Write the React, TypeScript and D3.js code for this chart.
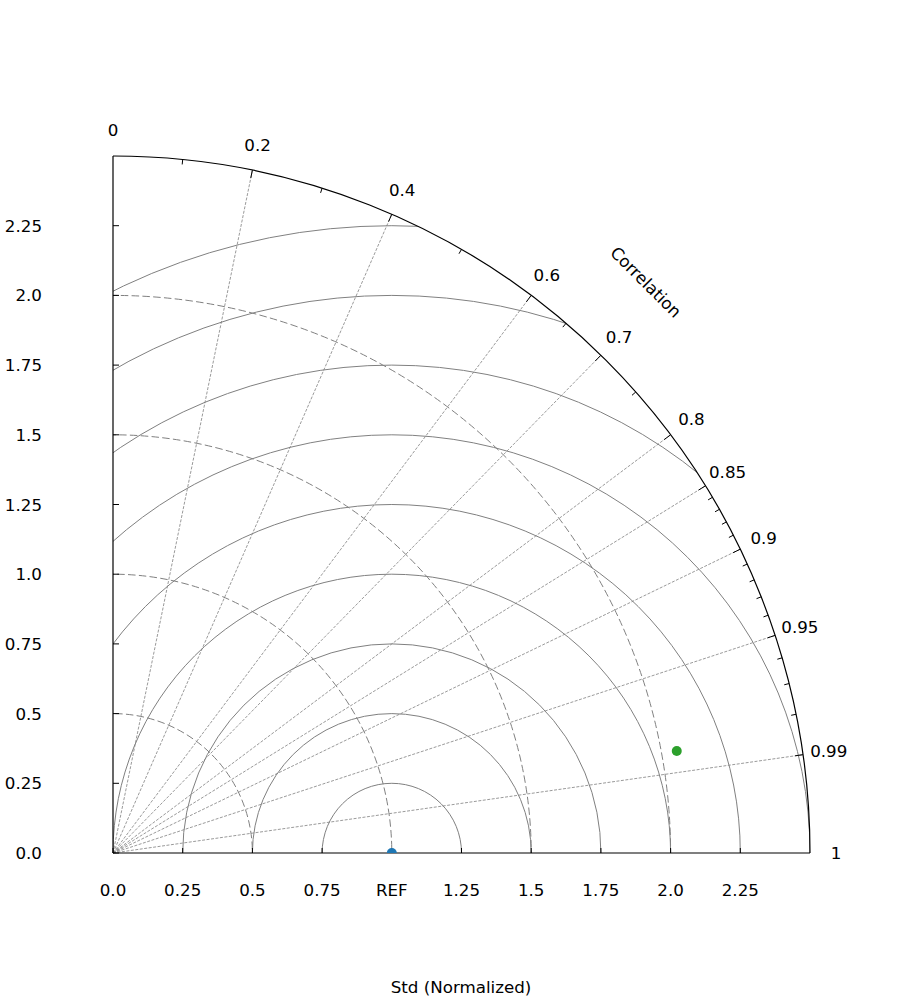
import { useEffect, useRef } from "react";
import * as d3 from "d3";

// std axis (normalized)
const stdTicks = [0, 0.25, 0.5, 0.75, 1, 1.25, 1.5, 1.75, 2, 2.25];
const xTickLabels = ["0.0", "0.25", "0.5", "0.75", "REF", "1.25", "1.5", "1.75", "2.0", "2.25"];
const yTickLabels = ["0.0", "0.25", "0.5", "0.75", "1.0", "1.25", "1.5", "1.75", "2.0", "2.25"];
const stdMax = 2.5;

// correlation axis
const corrMajor = [0, 0.2, 0.4, 0.6, 0.7, 0.8, 0.85, 0.9, 0.95, 0.99, 1];
const corrLabels = ["0", "0.2", "0.4", "0.6", "0.7", "0.8", "0.85", "0.9", "0.95", "0.99", "1"];
const corrMinor = [0.1, 0.3, 0.5, 0.65, 0.75, 0.86, 0.87, 0.88, 0.89, 0.91, 0.92, 0.93, 0.94, 0.96, 0.97, 0.98];
const corrLines = [0.2, 0.4, 0.6, 0.7, 0.8, 0.85, 0.9, 0.95, 0.99];

// grid contours
const rmsLevels = [0.25, 0.5, 0.75, 1, 1.25, 1.5, 1.75, 2, 2.25];
const stdArcs = [0.5, 1, 1.5, 2];

// samples
const pointNames = ["REF", "Model"];
const pointStd = [1, 2.055];
const pointCorr = [1, 0.984];
const pointColors = ["#1f77b4", "#2ca02c"];

const App = () => {
  const ref = useRef<SVGSVGElement>(null);

  useEffect(() => {
    draw();
  }, []);

  const draw = () => {
    const width = 900;
    const height = 1000;
    const cx = 113;
    const cy = 853;
    const font = "DejaVu Sans, sans-serif";
    const fs = "16.7px";

    const svg = d3.select(ref.current).attr("width", width).attr("height", height);
    svg.selectAll("*").remove();

    const r = d3.scaleLinear().domain([0, stdMax]).range([0, 697]);
    const R = r(stdMax);

    // polar (std, corr) -> pixel
    const pos = (s: number, c: number) => {
      const t = Math.acos(c);
      return [cx + r(s) * Math.cos(t), cy - r(s) * Math.sin(t)];
    };

    // quarter disc clip
    svg
      .append("defs")
      .append("clipPath")
      .attr("id", "quarter")
      .append("path")
      .attr("d", `M${cx},${cy} L${cx + R},${cy} A${R},${R} 0 0 0 ${cx},${cy - R} Z`);

    const grid = svg.append("g").attr("clip-path", "url(#quarter)");

    // centered RMS circles around REF
    grid
      .selectAll("circle.rms")
      .data(rmsLevels)
      .join("circle")
      .attr("class", "rms")
      .attr("cx", cx + r(1))
      .attr("cy", cy)
      .attr("r", (d) => r(d))
      .attr("fill", "none")
      .attr("stroke", "#808080")
      .attr("stroke-width", 1);

    // std dashed arcs
    grid
      .selectAll("circle.std")
      .data(stdArcs)
      .join("circle")
      .attr("class", "std")
      .attr("cx", cx)
      .attr("cy", cy)
      .attr("r", (d) => r(d))
      .attr("fill", "none")
      .attr("stroke", "#808080")
      .attr("stroke-width", 1)
      .attr("stroke-dasharray", "7.5,3.3");

    // correlation rays
    svg
      .append("g")
      .selectAll("line")
      .data(corrLines)
      .join("line")
      .attr("x1", cx)
      .attr("y1", cy)
      .attr("x2", (d) => pos(stdMax, d)[0])
      .attr("y2", (d) => pos(stdMax, d)[1])
      .attr("stroke", "#808080")
      .attr("stroke-width", 0.8)
      .attr("stroke-dasharray", "3,1.5");

    // axes lines
    const axes = svg.append("g").attr("stroke", "#000").attr("fill", "none");
    axes.append("line").attr("x1", cx).attr("y1", cy).attr("x2", cx + R).attr("y2", cy).attr("stroke-width", 1.2);
    axes.append("line").attr("x1", cx).attr("y1", cy).attr("x2", cx).attr("y2", cy - R).attr("stroke-width", 1.2);
    axes
      .append("path")
      .attr("d", `M${cx + R},${cy} A${R},${R} 0 0 0 ${cx},${cy - R}`)
      .attr("stroke-width", 1.2);

    // std ticks (inward)
    const stdTickG = svg.append("g").attr("stroke", "#000").attr("stroke-width", 1);
    stdTickG
      .selectAll("line.xt")
      .data(stdTicks)
      .join("line")
      .attr("x1", (d) => cx + r(d))
      .attr("x2", (d) => cx + r(d))
      .attr("y1", cy)
      .attr("y2", cy - 5);
    stdTickG
      .selectAll("line.yt")
      .data(stdTicks)
      .join("line")
      .attr("y1", (d) => cy - r(d))
      .attr("y2", (d) => cy - r(d))
      .attr("x1", cx)
      .attr("x2", cx + 6);

    // std tick labels
    svg
      .append("g")
      .selectAll("text")
      .data(stdTicks)
      .join("text")
      .attr("x", (d) => cx + r(d))
      .attr("y", cy + 37)
      .attr("text-anchor", "middle")
      .attr("dominant-baseline", "central")
      .style("font-family", font)
      .style("font-size", fs)
      .text((d, i) => xTickLabels[i]);
    svg
      .append("g")
      .selectAll("text")
      .data(stdTicks)
      .join("text")
      .attr("x", 42)
      .attr("y", (d) => cy - r(d))
      .attr("text-anchor", "end")
      .attr("dominant-baseline", "central")
      .style("font-family", font)
      .style("font-size", fs)
      .text((d, i) => yTickLabels[i]);

    // correlation ticks
    const tick = (c: number, len: number) => {
      const t = Math.acos(c);
      return {
        x1: cx + R * Math.cos(t),
        y1: cy - R * Math.sin(t),
        x2: cx + (R - len) * Math.cos(t),
        y2: cy - (R - len) * Math.sin(t),
      };
    };
    const corrTickG = svg.append("g").attr("stroke", "#000").attr("stroke-width", 1);
    corrTickG
      .selectAll("line.maj")
      .data(corrMajor.filter((c) => c > 0 && c < 1))
      .join("line")
      .attr("x1", (d) => tick(d, 8).x1)
      .attr("y1", (d) => tick(d, 8).y1)
      .attr("x2", (d) => tick(d, 8).x2)
      .attr("y2", (d) => tick(d, 8).y2);
    corrTickG
      .selectAll("line.min")
      .data(corrMinor)
      .join("line")
      .attr("x1", (d) => tick(d, 5).x1)
      .attr("y1", (d) => tick(d, 5).y1)
      .attr("x2", (d) => tick(d, 5).x2)
      .attr("y2", (d) => tick(d, 5).y2);

    // correlation labels
    const labR = R + 26;
    svg
      .append("g")
      .selectAll("text")
      .data(corrMajor)
      .join("text")
      .attr("x", (d) => cx + labR * Math.cos(Math.acos(d)))
      .attr("y", (d) => cy - labR * Math.sin(Math.acos(d)))
      .attr("text-anchor", "middle")
      .attr("dominant-baseline", "central")
      .style("font-family", font)
      .style("font-size", fs)
      .text((d, i) => corrLabels[i]);

    // axis titles
    svg
      .append("text")
      .attr("transform", "translate(646,282) rotate(45)")
      .attr("text-anchor", "middle")
      .attr("dominant-baseline", "central")
      .style("font-family", font)
      .style("font-size", fs)
      .text("Correlation");
    svg
      .append("text")
      .attr("x", 461)
      .attr("y", 987)
      .attr("text-anchor", "middle")
      .attr("dominant-baseline", "central")
      .style("font-family", font)
      .style("font-size", fs)
      .text("Std (Normalized)");

    // samples (REF is clipped by the axes area)
    svg
      .append("g")
      .selectAll("circle")
      .data(pointNames)
      .join("circle")
      .attr("cx", (d, i) => pos(pointStd[i], pointCorr[i])[0])
      .attr("cy", (d, i) => pos(pointStd[i], pointCorr[i])[1])
      .attr("r", 5)
      .attr("fill", (d, i) => pointColors[i])
      .attr("clip-path", (d, i) => (i === 0 ? "url(#quarter)" : null));
  };

  return (
    <div style={{ position: "absolute", left: 0, top: 0 }}>
      <svg ref={ref}></svg>
    </div>
  );
};

export default App;
